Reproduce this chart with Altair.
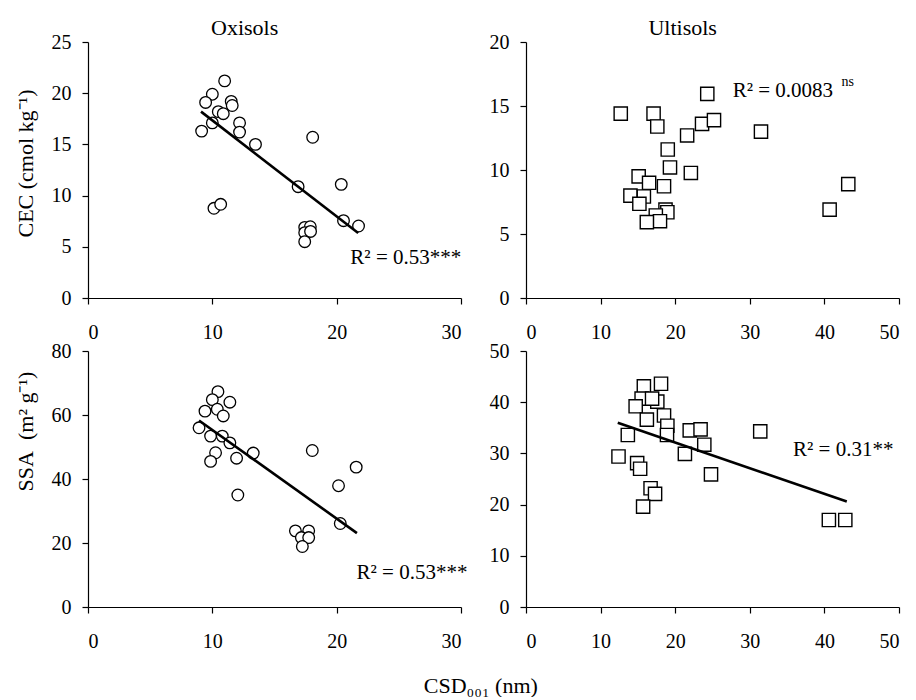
import altair as alt
import pandas as pd

FONT = "Liberation Serif"

# ---------------- data ----------------
# Oxisols : CSD001 (nm) vs CEC (cmol kg-1)
ox_cec_csd = [10.99, 10.0, 9.46, 11.52, 11.6, 10.48, 10.88, 10.0, 9.14, 12.19, 12.19, 13.47,
              10.13, 10.67, 16.9, 18.07, 20.37, 20.55, 21.76, 17.43, 17.88, 17.43, 17.9, 17.43]
ox_cec = [21.2, 19.9, 19.1, 19.2, 18.8, 18.2, 18.0, 17.1, 16.3, 17.1, 16.2, 15.0,
          8.76, 9.15, 10.87, 15.7, 11.1, 7.55, 7.03, 6.9, 6.96, 6.38, 6.5, 5.5]

# Oxisols : CSD001 vs SSA (m2 g-1)
ox_ssa_csd = [10.45, 10.0, 11.41, 9.41, 10.4, 10.88, 8.93, 9.86, 10.8, 11.41, 10.26, 9.86,
              11.95, 13.29, 12.05, 18.04, 16.68, 17.75, 17.16, 17.75, 17.24, 21.57, 20.15, 20.29]
ox_ssa = [67.3, 64.8, 64.0, 61.2, 61.8, 59.7, 56.0, 53.4, 53.4, 51.3, 48.2, 45.5,
          46.5, 48.1, 35.0, 48.9, 23.8, 23.8, 21.7, 21.7, 18.9, 43.7, 37.9, 26.1]

# Ultisols : CSD001 vs CEC
ul_cec_csd = [24.3, 12.7, 17.1, 17.6, 21.6, 23.6, 25.2, 19.0, 19.3, 22.1, 15.1, 16.5,
              18.5, 14.0, 15.8, 15.2, 18.7, 18.95, 17.4, 17.96, 16.2, 31.5, 43.2, 40.7]
ul_cec = [15.95, 14.4, 14.4, 13.4, 12.7, 13.6, 13.9, 11.6, 10.2, 9.77, 9.5, 9.0,
          8.73, 8.0, 7.93, 7.36, 6.9, 6.7, 6.45, 6.0, 5.93, 13.0, 8.9, 6.9]

# Ultisols : CSD001 vs SSA
ul_ssa_csd = [18.1, 15.8, 15.5, 17.6, 14.7, 16.9, 18.5, 16.2, 18.95, 18.9, 13.65, 21.95,
              23.4, 23.9, 21.3, 12.4, 14.9, 15.3, 16.7, 17.3, 15.7, 24.8, 31.4, 40.6, 42.8]
ul_ssa = [43.6, 43.1, 40.7, 40.1, 39.2, 40.7, 37.4, 36.6, 35.4, 33.6, 33.6, 34.5,
          34.7, 31.7, 29.9, 29.4, 28.1, 27.0, 23.2, 22.1, 19.6, 25.9, 34.3, 17.0, 17.0]

# fitted regression lines (end points)
ox_cec_fit_x = [9.09, 21.73]
ox_cec_fit_y = [18.2, 6.35]
ox_ssa_fit_x = [8.93, 21.63]
ox_ssa_fit_y = [58.3, 23.1]
ul_ssa_fit_x = [12.3, 43.0]
ul_ssa_fit_y = [36.0, 20.6]

# annotations (text, x, y in data units)
ann_ox_cec = ("R² = 0.53***", 21.1, 3.9)
ann_ox_ssa = ("R² = 0.53***", 21.6, 10.7)
ann_ul_cec = ("R² = 0.0083", 27.7, 16.2)
ann_ul_cec_sup = ("ns", 42.3, 16.9)
ann_ul_ssa = ("R² = 0.31**", 35.8, 30.7)

# panel titles (text, x position in data units)
title_ox = ("Oxisols", 12.6)
title_ul = ("Ultisols", 21.0)

X_TITLE = "CSD₀₀₁ (nm)"
Y_TITLE_CEC = "CEC (cmol kg⁻¹)"
Y_TITLE_SSA = "SSA\u00a0\u00a0(m²\u00a0g⁻¹)"

W, H = 373, 256


def panel(xs, ys, shape, xmax, xstep, ymax, ystep, fit=None, anns=(), sup=None,
          ytitle=None, titley=None, ptitle=None):
    df = pd.DataFrame({"x": xs, "y": ys})
    xsc = alt.Scale(domain=[0, xmax], nice=False, zero=True)
    ysc = alt.Scale(domain=[0, ymax], nice=False, zero=True)
    xax = alt.Axis(values=list(range(0, xmax + 1, xstep)), title=None, labelPadding=18)
    yargs = dict(values=list(range(0, ymax + 1, ystep)), labelPadding=11)
    if ytitle:
        yargs.update(title=ytitle, titleY=titley)
    else:
        yargs.update(title=None)
    yax = alt.Axis(**yargs)

    if shape == "circle":
        pts = alt.Chart(df).mark_point(shape="circle", filled=True, fill="white", stroke="black",
                                       strokeWidth=1.3, size=135, opacity=1)
    else:
        pts = alt.Chart(df).mark_point(shape="square", filled=True, fill="white", stroke="black",
                                       strokeWidth=1.4, size=175, opacity=1)
    pts = pts.encode(x=alt.X("x:Q", scale=xsc, axis=xax), y=alt.Y("y:Q", scale=ysc, axis=yax))
    layers = [pts]
    if fit is not None:
        fdf = pd.DataFrame({"x": fit[0], "y": fit[1]})
        layers.append(alt.Chart(fdf).mark_line(color="black", strokeWidth=2.6).encode(
            x=alt.X("x:Q", scale=xsc), y=alt.Y("y:Q", scale=ysc)))
    for (t, ax, ay) in anns:
        adf = pd.DataFrame({"x": [ax], "y": [ay], "t": [t]})
        layers.append(alt.Chart(adf).mark_text(font=FONT, fontSize=21, align="left",
                                               baseline="middle", color="black").encode(
            x=alt.X("x:Q", scale=xsc), y=alt.Y("y:Q", scale=ysc), text="t:N"))
    if sup is not None:
        sdf = pd.DataFrame({"x": [sup[1]], "y": [sup[2]], "t": [sup[0]]})
        layers.append(alt.Chart(sdf).mark_text(font=FONT, fontSize=14, align="left",
                                               baseline="middle", color="black").encode(
            x=alt.X("x:Q", scale=xsc), y=alt.Y("y:Q", scale=ysc), text="t:N"))
    if ptitle is not None:
        tdf = pd.DataFrame({"x": [ptitle[1]], "t": [ptitle[0]]})
        layers.append(alt.Chart(tdf).mark_text(font=FONT, fontSize=22, align="center",
                                               baseline="alphabetic", color="black").encode(
            x=alt.X("x:Q", scale=xsc), y=alt.value(-7), text="t:N"))
    return alt.layer(*layers).properties(width=W, height=H)


p1 = panel(ox_cec_csd, ox_cec, "circle", 30, 10, 25, 5,
           fit=(ox_cec_fit_x, ox_cec_fit_y), anns=[ann_ox_cec],
           ytitle=Y_TITLE_CEC, titley=121, ptitle=title_ox)
p2 = panel(ul_cec_csd, ul_cec, "square", 50, 10, 20, 5,
           anns=[ann_ul_cec], sup=ann_ul_cec_sup, ptitle=title_ul)
p3 = panel(ox_ssa_csd, ox_ssa, "circle", 30, 10, 80, 20,
           fit=(ox_ssa_fit_x, ox_ssa_fit_y), anns=[ann_ox_ssa],
           ytitle=Y_TITLE_SSA, titley=80)
p4 = panel(ul_ssa_csd, ul_ssa, "square", 50, 10, 50, 10,
           fit=(ul_ssa_fit_x, ul_ssa_fit_y), anns=[ann_ul_ssa])

chart = alt.concat(p1, p2, p3, p4, columns=2, spacing={"row": 53, "column": 65},
                   bounds="flush").properties(
    title=alt.TitleParams(X_TITLE, orient="bottom", font=FONT, fontSize=22, fontWeight="normal",
                          color="black", anchor="middle", dx=24, offset=25),
    padding={"left": 14, "top": 17, "right": 5, "bottom": 0},
    background="white",
).configure_axis(
    grid=False, domainColor="black", domainWidth=1.2, tickColor="black", tickWidth=1.2,
    tickSize=6, labelFont=FONT, labelFontSize=20, labelColor="black",
    titleFont=FONT, titleFontSize=22, titleFontWeight="normal", titleColor="black",
    titlePadding=14,
).configure_view(strokeWidth=0)

chart.save("out.html", embed_options={"renderer": "svg", "actions": False})
